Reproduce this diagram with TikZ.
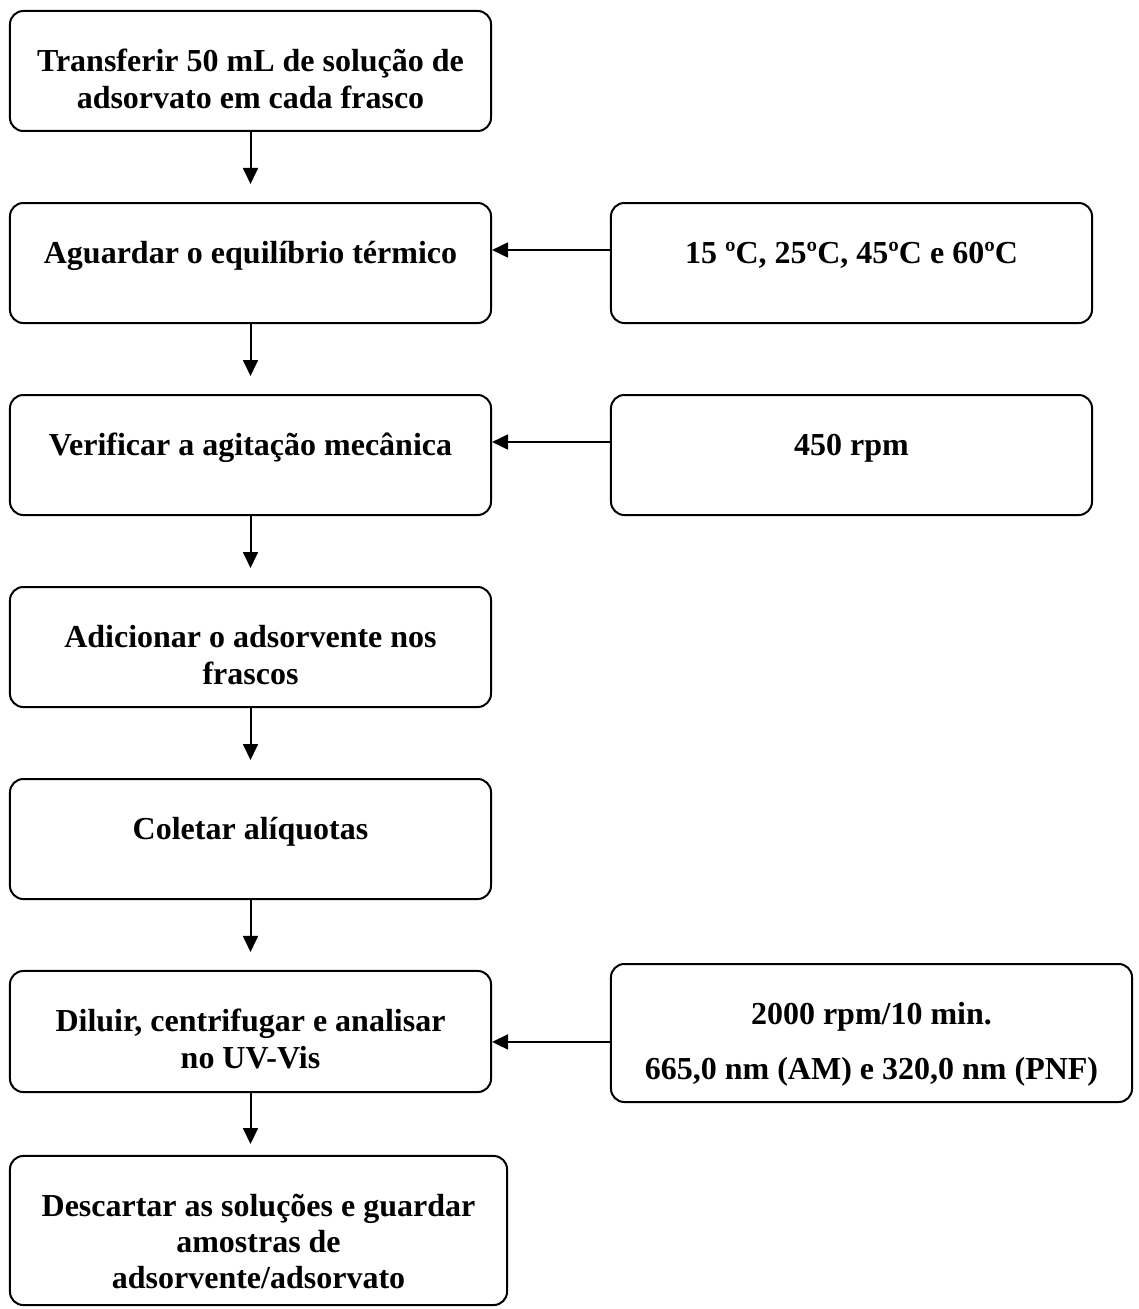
\documentclass[tikz,border=0pt]{standalone}
\usepackage{fontspec}
\setmainfont{Liberation Serif}
\usepackage{tikz}
\usetikzlibrary{positioning,calc,arrows.meta}

\newcommand{\etapa}[4][13.75pt]{\parbox[c][#2][t]{#3}{\centering\bfseries\fontsize{12}{#1}\selectfont\rule{0pt}{22.7pt}#4}}

\tikzset{
  caixa/.style={draw, rounded corners=5pt, line width=0.75pt, inner sep=0pt},
  seta/.style={-{Triangle[length=6pt,width=5.6pt]}, line width=0.75pt},
}

\begin{document}
\begin{tikzpicture}[x=0.375pt, y=-0.375pt]
    \useasboundingbox (0,0) rectangle (1138,1309);

    % main steps
    \node[caixa] (l1) at (250.5,71) {\etapa{45pt}{180.4pt}{Transferir 50 mL de solução de\\adsorvato em cada frasco}};
    \node[caixa] (l2) at (250.5,263) {\etapa{45pt}{180.4pt}{Aguardar o equilíbrio térmico}};
    \node[caixa] (l3) at (250.5,455) {\etapa{45pt}{180.4pt}{Verificar a agitação mecânica}};
    \node[caixa] (l4) at (250.5,647) {\etapa{45pt}{180.4pt}{Adicionar o adsorvente nos\\frascos}};
    \node[caixa] (l5) at (250.5,839) {\etapa{45pt}{180.4pt}{Coletar alíquotas}};
    \node[caixa] (l6) at (250.5,1031.5) {\etapa{45.4pt}{180.4pt}{Diluir, centrifugar e analisar\\no UV-Vis}};
    \node[caixa] (l7) at (258.5,1230.5) {\etapa[13.5pt]{55.9pt}{186.4pt}{Descartar as soluções e guardar\\amostras de\\adsorvente/adsorvato}};

    % conditions
    \node[caixa] (r1) at (851.5,263) {\etapa{45pt}{180.4pt}{15 ºC, 25ºC, 45ºC e 60ºC}};
    \node[caixa] (r2) at (851.5,455) {\etapa{45pt}{180.4pt}{450 rpm}};
    \node[caixa] (r3) at (871.5,1033) {\etapa{51.75pt}{195.4pt}{2000 rpm/10 min.\\[7pt]665,0 nm (AM) e 320,0 nm (PNF)}};

    % flow
    \foreach \a/\b in {l1/l2,l2/l3,l3/l4,l4/l5,l5/l6}
        \draw[seta, shorten >=6.75pt] (\a) -- (\b);
    \draw[seta, shorten >=4.1pt] (l6.south) -- (l6.south |- l7.north);

    \coordinate (c1) at ([yshift=-18pt]r1.north west);
    \coordinate (c2) at ([yshift=-18pt]r2.north west);
    \coordinate (c3) at ([yshift=-29.6pt]r3.north west);
    \draw[seta] (c1) -- (c1 -| l2.east);
    \draw[seta] (c2) -- (c2 -| l3.east);
    \draw[seta] (c3) -- (c3 -| l6.east);
\end{tikzpicture}
\end{document}
